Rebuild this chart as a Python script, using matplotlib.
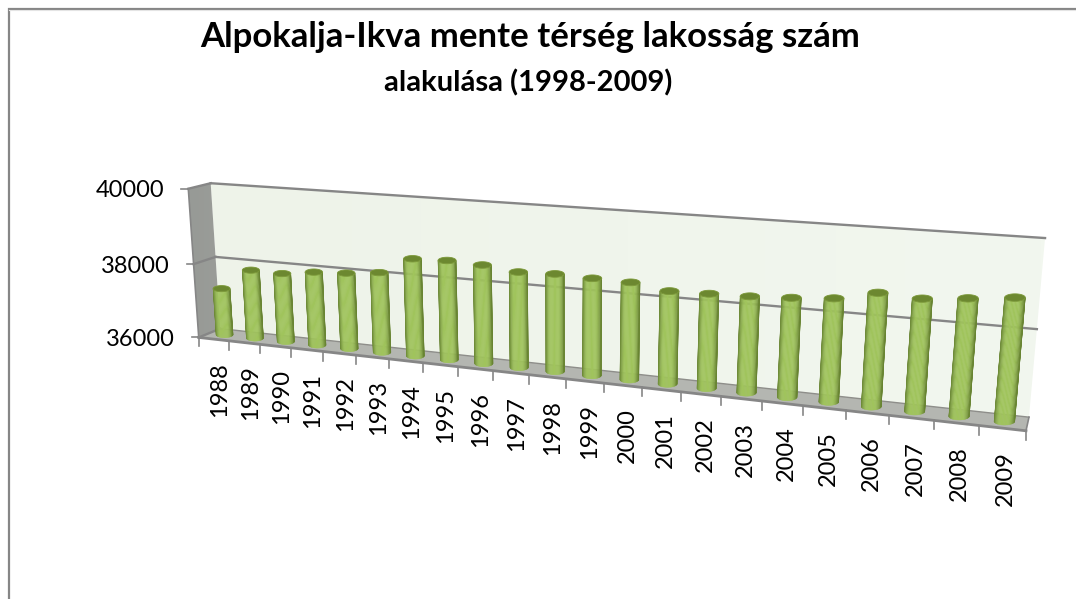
import numpy as np
import matplotlib
matplotlib.use("Agg")
import matplotlib.pyplot as plt
from matplotlib.patches import Polygon
from matplotlib.transforms import Transform
from matplotlib.colors import LinearSegmentedColormap, to_rgb

years = [str(y) for y in range(1988, 2010)]
population = [37270, 37850, 37835, 37950, 38000, 38090, 38520, 38550, 38510, 38410, 38440,
              38410, 38390, 38260, 38280, 38300, 38350, 38420, 38630, 38580, 38670, 38770]
value_ticks = [36000, 38000, 40000]
title_main = "Alpokalja-Ikva mente térség lakosság szám"
title_sub = "alakulása (1998-2009)"

plt.rcParams['font.family'] = ['Lato', 'DejaVu Sans']
W, H = 1076, 599
fig = plt.figure(figsize=(W / 100, H / 100), dpi=100, facecolor='white')
ax = fig.add_axes([0, 0, 1, 1])
ax.set_xlim(0, W)
ax.set_ylim(H, 0)
ax.axis('off')

n = len(years)
vmin, vmax = value_ticks[0], value_ticks[-1]

# Camera calibration: box corners (cat, depth, value) -> chart pixels
calib = [((0, 0, vmin), (200, 337)), ((n, 0, vmin), (1026, 431)),
         ((0, 1, vmin), (219, 329)), ((n, 1, vmin), (1029, 417)),
         ((0, 1, vmax), (212, 183)), ((n, 1, vmax), (1045, 238)),
         ((0, 0, vmax), (187, 189))]


def norm(c, d, v):
    return np.array([c / n, d, (v - vmin) / (vmax - vmin), 1.0])


rows = []
for (c, d, v), (px, py) in calib:
    p = norm(c, d, v)
    rows.append(np.r_[p, np.zeros(4), -px * p])
    rows.append(np.r_[np.zeros(4), p, -py * p])
CAM = np.linalg.svd(np.array(rows))[2][-1].reshape(3, 4)


class BoxProjection(Transform):
    """Maps (category, value) at a given depth of the 3-D box to chart pixels."""
    input_dims = 2
    output_dims = 2

    def __init__(self, plane_depth):
        super().__init__()
        self.plane_depth = plane_depth

    def transform_non_affine(self, values):
        values = np.asarray(values, float)
        m = len(values)
        q = np.c_[values[:, 0] / n, np.full(m, self.plane_depth),
                  (values[:, 1] - vmin) / (vmax - vmin), np.ones(m)]
        r = q @ CAM.T
        return r[:, :2] / r[:, 2:]


front, mid, back = BoxProjection(0.0), BoxProjection(0.5), BoxProjection(1.0)


def pt(plane, c, v):
    return plane.transform_non_affine(np.array([[c, v]], float))[0]


LINE = '#868686'

# outer chart frame
ax.plot([8.5, 8.5, W], [H, 8.5, 8.5], color='#868686', lw=1.6, zorder=1, solid_joinstyle='miter')
ax.plot([9, W], [10, 10], color='#e4e4e4', lw=0.8, zorder=1)


def gradient_poly(corners, c0, c1, horizontal=True, zorder=2):
    corners = np.array(corners)
    poly = Polygon(corners, closed=True, transform=ax.transData, facecolor='none', edgecolor='none')
    ax.add_patch(poly)
    cmap = LinearSegmentedColormap.from_list('g', [c0, c1])
    g = np.linspace(0, 1, 256)
    g = g[None, :] if horizontal else g[:, None]
    x0, x1 = corners[:, 0].min(), corners[:, 0].max()
    y0, y1 = corners[:, 1].min(), corners[:, 1].max()
    im = ax.imshow(g, extent=[x0, x1, y1, y0], cmap=cmap, aspect='auto', zorder=zorder,
                   interpolation='bilinear')
    im.set_clip_path(poly)
    ax.set_xlim(0, W)
    ax.set_ylim(H, 0)


# back wall, side wall, floor
bw = [pt(back, 0, vmin), pt(back, n, vmin), pt(back, n, vmax), pt(back, 0, vmax)]
gradient_poly(bw, '#eef3e9', '#f2f7ef')
sw = [pt(front, 0, vmin), pt(back, 0, vmin), pt(back, 0, vmax), pt(front, 0, vmax)]
gradient_poly(sw, '#979a96', '#9a9c98')
floor = [pt(front, 0, vmin), pt(front, n, vmin), pt(back, n, vmin), pt(back, 0, vmin)]
ax.add_patch(Polygon(floor, closed=True, facecolor='#b4b6b1', edgecolor='none', zorder=2))

# gridlines on the back wall and side wall
for v in value_ticks:
    a, b, f = pt(back, 0, v), pt(back, n, v), pt(front, 0, v)
    lw = 1.7
    if v != vmin:
        ax.plot([a[0], b[0]], [a[1], b[1]], color=LINE, lw=lw, zorder=3)
    ax.plot([f[0], a[0]], [f[1], a[1]], color=LINE, lw=lw, zorder=3)
    ax.plot([f[0] - 7, f[0]], [f[1], f[1]], color=LINE, lw=1.2, zorder=3)
    ax.text(f[0] - 24, f[1] + 2, str(v), ha='right', va='center', fontsize=17, color='black', zorder=6)

# axis edges
a, b = pt(front, 0, vmin), pt(front, 0, vmax)
ax.plot([a[0], b[0]], [a[1], b[1]], color=LINE, lw=1.2, zorder=3)
a, b = pt(front, 0, vmin), pt(front, n, vmin)
ax.plot([a[0], b[0]], [a[1], b[1]], color=LINE, lw=2.0, zorder=3)
a, b = pt(back, 0, vmin), pt(back, n, vmin)
ax.plot([a[0], b[0]], [a[1], b[1]], color='#8e8e8a', lw=1.0, zorder=3)
a, b = pt(front, n, vmin), pt(back, n, vmin)
ax.plot([a[0], b[0]], [a[1], b[1]], color=LINE, lw=1.2, zorder=3)

# category ticks and labels
for k in range(n + 1):
    f = pt(front, k, vmin)
    ax.plot([f[0], f[0]], [f[1], f[1] + 9], color=LINE, lw=1.2, zorder=3)
for k, y in enumerate(years):
    f = pt(front, k + 0.5, vmin)
    ax.text(f[0] + 6 - 3 * k / n, f[1] + 23, y, rotation=90, ha='center', va='top', fontsize=17,
            color='black', zorder=6)

# cylinders
EDGE = np.array(to_rgb('#688432'))
LIGHT = np.array(to_rgb('#a0c45c'))
LEFT = np.array(to_rgb('#5f7a2d'))
TOP = '#6c8830'
thetas = np.linspace(-np.pi / 2, np.pi / 2, 25)


def shade(t):
    # t in -1..1 across the cylinder
    s = 1 - abs(t + 0.05) ** 2.6
    base = LEFT if t < 0 else EDGE
    return base + (LIGHT - base) * np.clip(s * 1.15, 0, 1)


for k, val in enumerate(population):
    c = k + 0.5
    p0 = pt(mid, c, vmin)
    p1 = pt(mid, c, val)
    per_k = np.hypot(*(pt(mid, c, vmin + 1000) - p0))
    rx = 0.235 * per_k
    ry = 0.36 * rx
    for th0, th1 in zip(thetas[:-1], thetas[1:]):
        xa, xb = rx * np.sin(th0), rx * np.sin(th1)
        ya, yb = ry * np.cos(th0), ry * np.cos(th1)
        col = shade(np.sin((th0 + th1) / 2))
        ax.add_patch(Polygon([(p0[0] + xa, p0[1] + ya), (p0[0] + xb, p0[1] + yb),
                              (p1[0] + xb, p1[1] + yb), (p1[0] + xa, p1[1] + ya)],
                             closed=True, facecolor=col, edgecolor=col, lw=0.3, zorder=4))
    tt = np.linspace(0, 2 * np.pi, 40)
    ax.add_patch(Polygon(np.c_[p1[0] + rx * np.sin(tt), p1[1] + ry * np.cos(tt)], closed=True,
                         facecolor=TOP, edgecolor='#7b9838', lw=0.6, zorder=5))

# titles
ax.text(530.5, 37, title_main, ha='center', va='center', fontsize=25, fontweight='bold', color='black', zorder=6)
ax.text(528.5, 83, title_sub, ha='center', va='center', fontsize=21, fontweight='bold', color='black', zorder=6)

fig.savefig('out.png', dpi=100, facecolor='white')
